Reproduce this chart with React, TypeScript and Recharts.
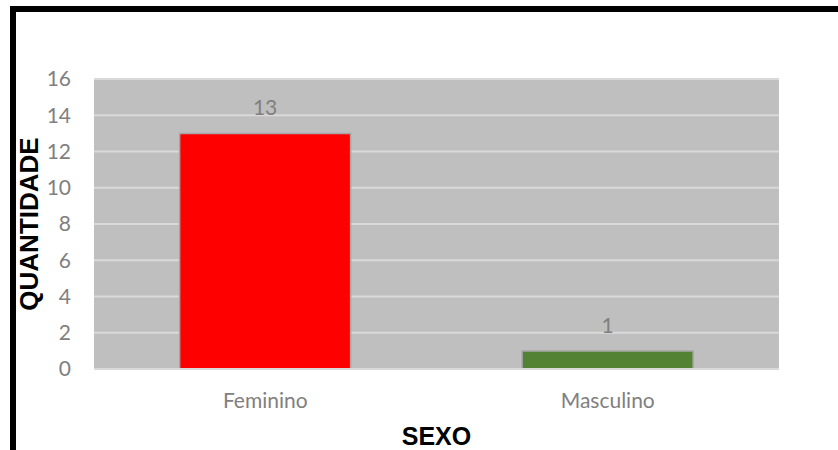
import React from "react";
import { BarChart, Bar, XAxis, YAxis, CartesianGrid, Cell, LabelList } from "recharts";

// Respondents by sex
const categories = ["Feminino", "Masculino"];
const counts = [13, 1];
const barColors = ["#FF0000", "#548235"];
const yTicks = [0, 2, 4, 6, 8, 10, 12, 14, 16];

const data = categories.map((sexo, i) => ({ sexo, quantidade: counts[i] }));

const labelFamily = "Lato, 'Open Sans', sans-serif";
const tickFont = { fill: "#808080", fontSize: 21, fontFamily: labelFamily };
const titleFont = "Arial, 'Liberation Sans', sans-serif";

export default function App() {
  return (
    <div style={{ position: "absolute", left: 0, top: 0, width: 838, height: 450, overflow: "hidden", background: "#fff" }}>
      <BarChart
        width={838}
        height={450}
        data={data}
        margin={{ top: 79, right: 59, bottom: 0, left: 0 }}
        barCategoryGap="25%"
      >
        <CartesianGrid vertical={false} fill="#BFBFBF" stroke="#D9D9D9" strokeWidth={2} />
        <XAxis
          dataKey="sexo"
          height={81}
          axisLine={{ stroke: "#D9D9D9", strokeWidth: 2 }}
          tickLine={false}
          tickSize={0}
          tickMargin={24}
          tick={tickFont}
          label={{
            value: "SEXO",
            position: "insideBottom",
            offset: 5,
            fill: "#000",
            fontSize: 25,
            fontWeight: 700,
            fontFamily: titleFont,
          }}
        />
        <YAxis
          width={94}
          domain={[0, 16]}
          ticks={yTicks}
          interval={0}
          axisLine={false}
          tickLine={false}
          tickSize={0}
          tickMargin={23}
          tick={tickFont}
          label={{
            value: "QUANTIDADE",
            angle: -90,
            position: "insideLeft",
            offset: 0,
            dx: 29,
            textAnchor: "middle",
            fill: "#000",
            fontSize: 26,
            fontWeight: 700,
            fontFamily: titleFont,
          }}
        />
        <Bar dataKey="quantidade" isAnimationActive={false} stroke="#A6A6A6" strokeWidth={1.5}>
          {data.map((d, i) => (
            <Cell key={d.sexo} fill={barColors[i]} />
          ))}
          <LabelList dataKey="quantidade" position="top" offset={18} fill="#808080" fontSize={21} fontFamily={labelFamily} />
        </Bar>
      </BarChart>
      <div
        style={{
          position: "absolute",
          left: 10,
          top: 6,
          width: 900,
          height: 600,
          border: "6px solid #000",
          pointerEvents: "none",
        }}
      />
    </div>
  );
}
